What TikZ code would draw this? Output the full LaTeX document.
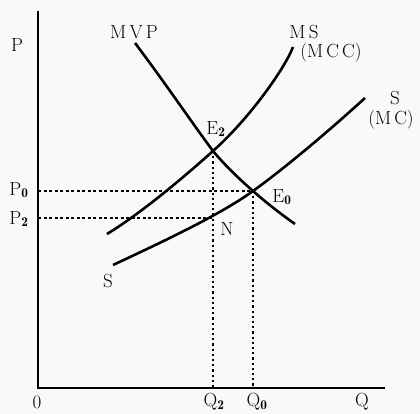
\documentclass[tikz,border=0pt]{standalone}
\usepackage{fontspec}
\begin{document}
\begin{tikzpicture}[x=1pt,y=-1pt,
  lbl/.style={inner sep=0pt,font=\fontsize{19}{22}\selectfont},
  curve/.style={line width=2.6pt},
  axis/.style={line width=1.8pt},
  guide/.style={line width=1.1pt,dash pattern=on 3pt off 2.5pt},
  vguide/.style={line width=1.3pt,dash pattern=on 2.2pt off 3pt}]
\useasboundingbox[fill=gray!5] (0,0) rectangle (420,414);
% axes
\coordinate (top) at (38,11);
\coordinate (O) at (38,388);
\coordinate (xend) at (385,388);
\draw[axis] (top) -- (O) -- (xend);
% key points
\coordinate (E2) at (213,151);
\coordinate (E0) at (253,191);
\coordinate (N) at (213,218);
\coordinate (P0c) at (38,191);
\coordinate (P2c) at (38,218);
\coordinate (Q2c) at (213,388);
\coordinate (Q0c) at (253,388);
\coordinate (mvpA) at (135,43);
\coordinate (mvpB) at (295,224);
\coordinate (msA) at (293,47);
\coordinate (msB) at (107,234);
\coordinate (sA) at (365,98);
\coordinate (sB) at (113,265);
% guides
\draw[guide] (P0c) -- (E0);
\draw[guide] (P2c) -- (N);
\draw[vguide] (E2) -- (Q2c);
\draw[vguide] (E0) -- (Q0c);
% curves
\draw[curve] (mvpA) .. controls (163,80) and (195,127) .. (E2)
  .. controls (233,175) and (265,203) .. (mvpB);
\draw[curve] (msA) .. controls (285,68) and (250,118) .. (E2)
  .. controls (183,178) and (140,214) .. (msB);
\draw[curve] (sA) .. controls (330,130) and (285,168) .. (E0)
  .. controls (220,215) and (160,243) .. (sB);
% labels
\node[lbl] (lP) at (17,45) {P};
\node[lbl] (lP0) at (19,190) {P$_{\mathbf{0}}$};
\node[lbl] (lP2) at (19,219) {P$_{\mathbf{2}}$};
\node[lbl] (l0) at (37,402) {0};
\node[lbl] (lQ2) at (214,402) {Q$_{\mathbf{2}}$};
\node[lbl] (lQ0) at (257,402) {Q$_{\mathbf{0}}$};
\node[lbl] (lQ) at (362,402) {Q};
\node[lbl] (lMVP) at (134,32) {M\,V\,P};
\node[lbl] (lMS) at (304,32) {M\,S};
\node[lbl] (lMCC) at (331,53) {(M\,C\,C)};
\node[lbl] (lS) at (395,98) {S};
\node[lbl] (lMC) at (391,120) {(M\,C)};
\node[lbl] (lE2) at (216,129) {E$_{\mathbf{2}}$};
\node[lbl] (lE0) at (282,197) {E$_{\mathbf{0}}$};
\node[lbl] (lN) at (227,229) {N};
\node[lbl] (lS2) at (108,281) {S};
\end{tikzpicture}
\end{document}
